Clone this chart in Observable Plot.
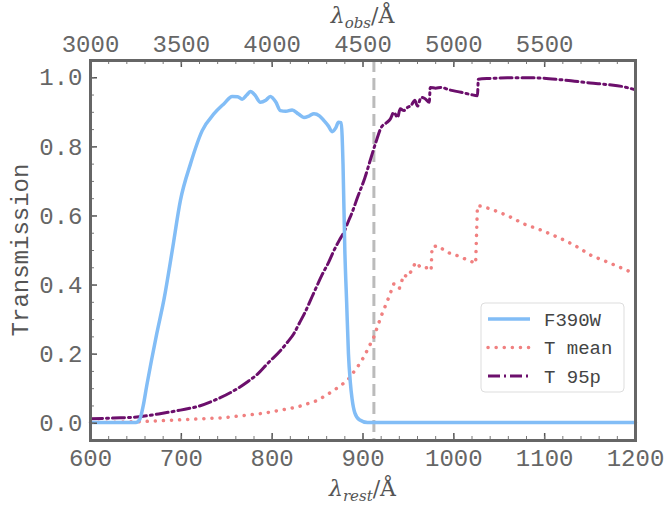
<!DOCTYPE html>
<html>
<head>
<meta charset="utf-8">
<script src="https://cdn.jsdelivr.net/npm/d3@7"></script>
<script src="https://cdn.jsdelivr.net/npm/@observablehq/plot@0.6"></script>
<style>
  html, body { margin: 0; padding: 0; background: #fff; }
  #chart { width: 668px; height: 506px; }
</style>
</head>
<body>
<div id="chart"></div>
<script>
// ---- data ----
const redshift = 4; // lambda_obs = lambda_rest * (1 + z)
const lymanLimit = [912];

const f390Wave = [600,650,654,658,662,667,673,681,690,699,710,723,736,747,756,762,767,772,776,781,787,793,798,804,809,815,822,829,835,841,846,852,857,862,866,870,873,876,878,880,882,884,886,888,891,896,905,1200];
const f390T    = [0.002,0.002,0.01,0.05,0.11,0.18,0.26,0.36,0.5,0.645,0.75,0.847,0.896,0.925,0.946,0.945,0.938,0.95,0.96,0.95,0.929,0.935,0.946,0.93,0.905,0.903,0.907,0.895,0.885,0.89,0.896,0.89,0.876,0.86,0.844,0.855,0.871,0.87,0.75,0.5,0.35,0.2,0.12,0.07,0.03,0.01,0.002,0.002];

const meanWave = [600,630,659,699,747,791,828,850,868,883,894,901,912,920,927,934,940,945,949,953,958,962,966,970,975,976,982,990,997,1004,1011,1018,1024,1026,1030,1041,1060,1077,1095,1115,1133,1151,1175,1199];
const meanT    = [0.003,0.003,0.005,0.01,0.016,0.029,0.047,0.066,0.095,0.124,0.163,0.192,0.25,0.31,0.355,0.404,0.39,0.43,0.423,0.44,0.466,0.455,0.448,0.45,0.442,0.51,0.514,0.5,0.49,0.485,0.477,0.47,0.462,0.63,0.628,0.62,0.6,0.577,0.56,0.538,0.515,0.486,0.46,0.433];

const p95Wave = [600,625,651,675,699,720,736,755,773,785,795,809,817,824,830,836,842,848,855,862,868,874,879,884,888,894,902,909,915,920,926,930,934,938,941,945,949,953,957,960,964,968,973,974,980,986,995,1008,1018,1026,1027,1040,1059,1080,1096,1115,1133,1150,1170,1185,1200];
const p95T    = [0.013,0.015,0.018,0.027,0.038,0.05,0.066,0.09,0.12,0.145,0.173,0.21,0.235,0.26,0.29,0.32,0.355,0.39,0.43,0.465,0.5,0.53,0.553,0.585,0.61,0.654,0.71,0.77,0.82,0.856,0.87,0.88,0.9,0.885,0.91,0.905,0.914,0.92,0.935,0.918,0.943,0.94,0.929,0.972,0.97,0.972,0.965,0.958,0.952,0.948,0.996,0.998,1.0,1.0,0.999,0.995,0.99,0.985,0.98,0.975,0.965];

const restTicks = [600,700,800,900,1000,1100,1200];
const obsTicks = [3000,3500,4000,4500,5000,5500];
const yTicks = [0,0.2,0.4,0.6,0.8,1.0];

const seriesNames = ["F390W","T mean","T 95p"];
const colors = {"F390W":"#82bdf6","T mean":"#f08080","T 95p":"#6c0f6c"};

// ---- tables ----
const toRows = (w, t) => w.map((x, i) => ({x, y: t[i]}));
const f390 = toRows(f390Wave, f390T);
const tmean = toRows(meanWave, meanT);
const t95 = toRows(p95Wave, p95T);

const obsAsRest = obsTicks.map(o => o / (1 + redshift));
const minorX = d3.range(600, 1201, 20);
const minorY = d3.range(0, 1.0001, 0.05);

const font = "Liberation Mono, DejaVu Sans Mono, monospace";
const tickCol = "#666";

const W = 668, H = 506, mL = 90, mR = 33, mT = 60, mB = 66;
const innerH = H - mT - mB, innerW = W - mL - mR;
const major = 7, minor = 4;

const plot = Plot.plot({
  width: W,
  height: H,
  marginLeft: mL,
  marginRight: mR,
  marginTop: mT,
  marginBottom: mB,
  style: {fontFamily: font, fontSize: "24px", color: "#555", background: "#fff"},
  x: {domain: [600, 1200], axis: null, label: null},
  y: {domain: [-0.05, 1.05], axis: null, label: null},
  marks: [
    Plot.ruleX(lymanLimit, {stroke: "#bbbbbb", strokeWidth: 3, strokeDasharray: "12 6"}),
    Plot.line(t95, {x: "x", y: "y", stroke: colors["T 95p"], strokeWidth: 3, strokeDasharray: "12 4 2 4", curve: "monotone-x"}),
    Plot.line(tmean, {x: "x", y: "y", stroke: colors["T mean"], strokeWidth: 3.5, strokeDasharray: "0.1 8", strokeLinecap: "round"}),
    Plot.line(f390, {x: "x", y: "y", stroke: colors["F390W"], strokeWidth: 3.5, curve: "monotone-x"}),
    // tick labels
    Plot.axisX(restTicks, {anchor: "bottom", tickSize: 0, tickPadding: 8, fill: tickCol, label: null, tickFormat: d => String(d)}),
    Plot.axisX(obsAsRest, {anchor: "top", tickSize: 0, tickPadding: 9, fill: tickCol, label: null, tickFormat: d => String(Math.round(d * (1 + redshift)))}),
    Plot.axisY(yTicks, {anchor: "left", tickSize: 0, tickPadding: 8, fill: tickCol, label: null, tickFormat: d3.format(".1f")}),
    // inward tick marks
    Plot.tickX(restTicks, {x: d => d, insetTop: innerH - major, stroke: "#555", strokeWidth: 1.5}),
    Plot.tickX(minorX, {x: d => d, insetTop: innerH - minor, stroke: "#777"}),
    Plot.tickX(obsAsRest, {x: d => d, insetBottom: innerH - major, stroke: "#555", strokeWidth: 1.5}),
    Plot.tickX(minorX, {x: d => d, insetBottom: innerH - minor, stroke: "#777"}),
    Plot.tickY(yTicks, {y: d => d, insetRight: innerW - major, stroke: "#555", strokeWidth: 1.5}),
    Plot.tickY(minorY, {y: d => d, insetRight: innerW - minor, stroke: "#777"}),
    Plot.frame({stroke: "#666", strokeWidth: 3})
  ]
});

document.getElementById("chart").appendChild(plot);

// ---- axis titles and legend ----
const svg = d3.select(plot);
const cx = mL + innerW / 2;

function mathLabel(sub, x, y) {
  const t = svg.append("text")
    .attr("x", x).attr("y", y)
    .attr("text-anchor", "middle")
    .attr("fill", "#555")
    .attr("font-family", "DejaVu Serif, serif")
    .attr("font-size", 22);
  t.append("tspan").attr("font-style", "italic").text("λ");
  t.append("tspan").attr("font-style", "italic").attr("font-size", 15).attr("dy", 5).text(sub);
  t.append("tspan").attr("dy", -5).text("/Å");
}
mathLabel("obs", cx, 23);
mathLabel("rest", cx, 496);

svg.append("text")
  .attr("transform", `translate(28,${mT + innerH / 2}) rotate(-90)`)
  .attr("text-anchor", "middle")
  .attr("fill", "#555")
  .attr("font-family", font)
  .attr("font-size", 24)
  .text("Transmission");

const lg = svg.append("g").attr("transform", "translate(481,303)");
lg.append("rect").attr("width", 143).attr("height", 89).attr("rx", 4)
  .attr("fill", "#fff").attr("fill-opacity", 0.85).attr("stroke", "#dddddd");
const styles = {
  "F390W": {w: 3.5, dash: null, cap: "butt"},
  "T mean": {w: 3.5, dash: "0.1 8", cap: "round"},
  "T 95p": {w: 3, dash: "12 4 2 4", cap: "butt"}
};
seriesNames.forEach((name, i) => {
  const yy = 16 + i * 28.5;
  const st = styles[name];
  lg.append("line").attr("x1", 7).attr("x2", 49).attr("y1", yy).attr("y2", yy)
    .attr("stroke", colors[name]).attr("stroke-width", st.w)
    .attr("stroke-dasharray", st.dash).attr("stroke-linecap", st.cap);
  lg.append("text").attr("x", 63).attr("y", yy).attr("dy", "0.35em")
    .attr("text-anchor", "start")
    .attr("fill", "#444").attr("font-family", font).attr("font-size", 19)
    .text(name);
});
</script>
</body>
</html>
